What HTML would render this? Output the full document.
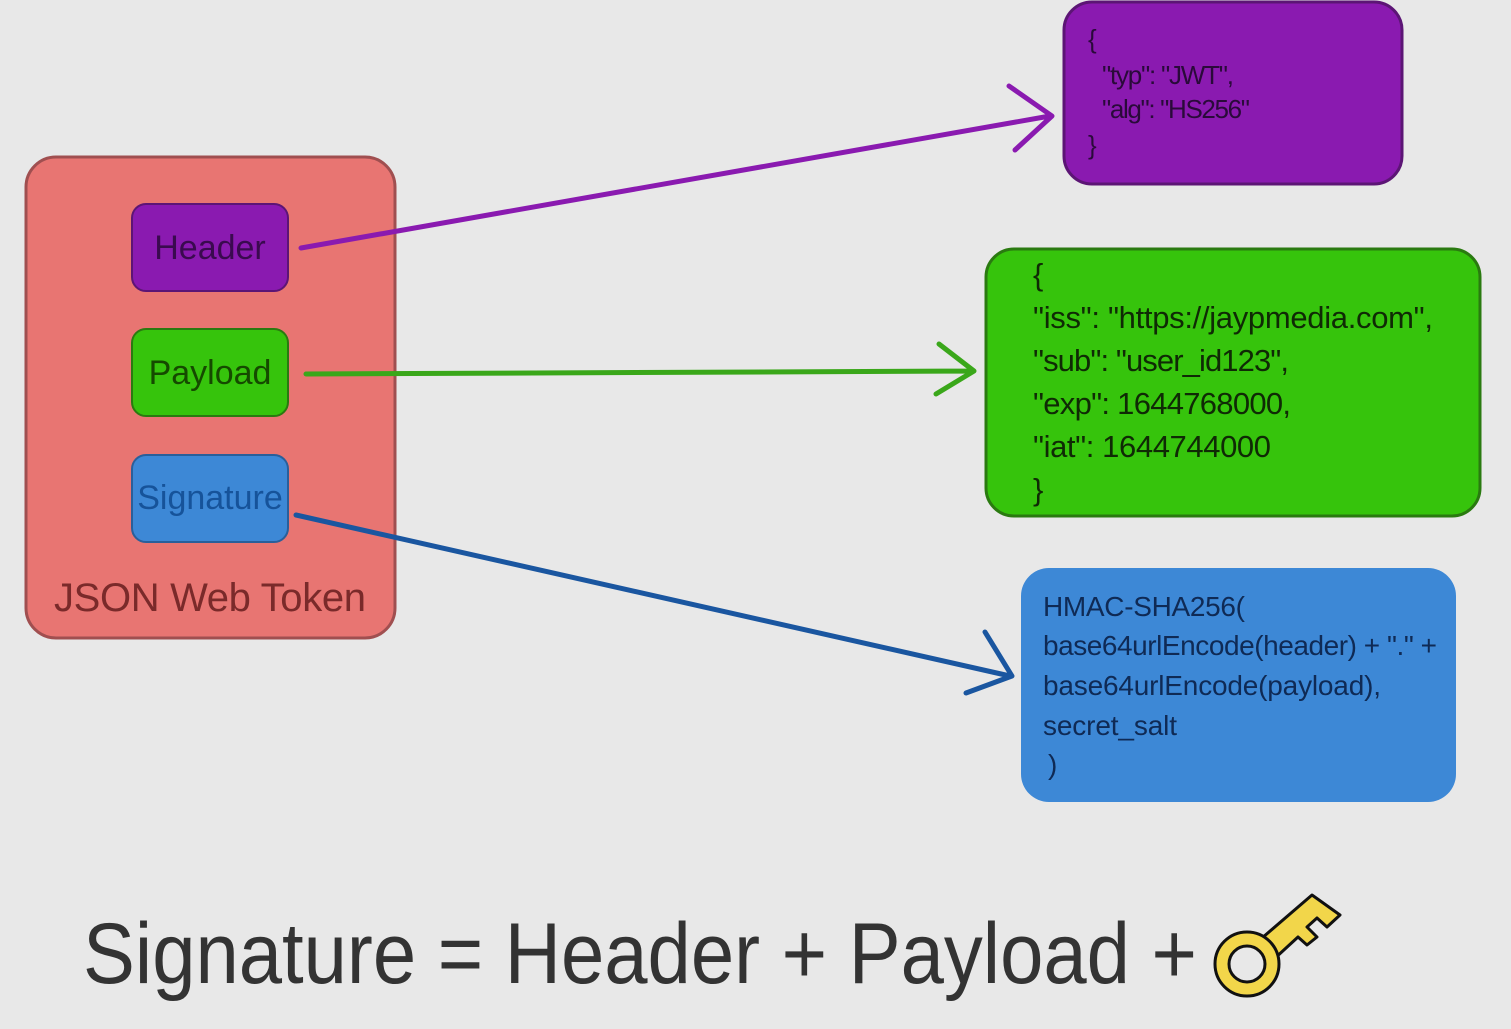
<!DOCTYPE html>
<html><head><style>html,body{margin:0;padding:0;background:#e8e8e8;}svg{display:block}</style></head>
<body>
<svg width="1511" height="1029" viewBox="0 0 1511 1029" xmlns="http://www.w3.org/2000/svg" font-family="Liberation Sans, sans-serif">
<rect width="1511" height="1029" fill="#e8e8e8"/>
<rect x="26" y="157" width="369" height="481" rx="30" fill="#e87572" stroke="#a04f50" stroke-width="3"/>
<rect x="132" y="204" width="156" height="87" rx="14" fill="#8a1ab0" stroke="#5c1575" stroke-width="2"/>
<text x="210" y="259" font-size="34" fill="#3a0a4f" text-anchor="middle">Header</text>
<rect x="132" y="329" width="156" height="87" rx="14" fill="#36c40c" stroke="#2a7a10" stroke-width="2"/>
<text x="210" y="384" font-size="34" fill="#154a00" text-anchor="middle">Payload</text>
<rect x="132" y="455" width="156" height="87" rx="14" fill="#3d88d6" stroke="#2a5f9a" stroke-width="2"/>
<text x="210" y="509" font-size="34" fill="#16539a" text-anchor="middle">Signature</text>
<text x="210" y="611" font-size="40" fill="#7a2a2a" text-anchor="middle" textLength="312">JSON Web Token</text>
<rect x="1064" y="2" width="338" height="182" rx="28" fill="#8a1ab0" stroke="#5c1575" stroke-width="3"/>
<g font-size="26" fill="#2a0a3a">
<text x="1088" y="48">{</text>
<text x="1102" y="84" textLength="132">"typ": "JWT",</text>
<text x="1102" y="118" textLength="148">"alg": "HS256"</text>
<text x="1088" y="154">}</text>
</g>
<rect x="986" y="249" width="494" height="267" rx="28" fill="#36c40c" stroke="#2a7a10" stroke-width="3"/>
<g font-size="31" fill="#0f2a05">
<text x="1033" y="285">{</text>
<text x="1033" y="328" textLength="400">"iss": "https://jaypmedia.com",</text>
<text x="1033" y="371" textLength="256">"sub": "user_id123",</text>
<text x="1033" y="414" textLength="258">"exp": 1644768000,</text>
<text x="1033" y="457" textLength="238">"iat": 1644744000</text>
<text x="1033" y="500">}</text>
</g>
<rect x="1021" y="568" width="435" height="234" rx="28" fill="#3d88d6"/>
<g font-size="28" fill="#0f2a55">
<text x="1043" y="616" textLength="202">HMAC-SHA256(</text>
<text x="1043" y="655" textLength="394">base64urlEncode(header) + "." +</text>
<text x="1043" y="695" textLength="338">base64urlEncode(payload),</text>
<text x="1043" y="735" textLength="134">secret_salt</text>
<text x="1048" y="774">)</text>
</g>
<g fill="none" stroke-width="5" stroke-linecap="round" stroke-linejoin="round">
<path d="M301 248 L1050 116 M1009 86 L1052 116 L1015 150" stroke="#8a1ab0"/>
<path d="M306 374 L972 371 M939 344 L974 371 L936 394" stroke="#3aa71a"/>
<path d="M296 515 L1010 676 M985 632 L1012 676 L966 693" stroke="#1a56a0"/>
</g>
<text x="83" y="983" font-size="86" fill="#333" textLength="1114" lengthAdjust="spacingAndGlyphs">Signature = Header + Payload +</text>
<g stroke="#111" stroke-width="3" fill="#f2d64a" stroke-linejoin="round">
<path d="M1262 938 L1312 895 L1340 915 L1327 927 L1317 918 L1307 927 L1317 937 L1307 945 L1298 937 L1273 960 Z"/>
<circle cx="1247" cy="964" r="32"/>
<circle cx="1247" cy="964" r="18" fill="#e8e8e8"/>
</g>
</svg>
</body></html>
